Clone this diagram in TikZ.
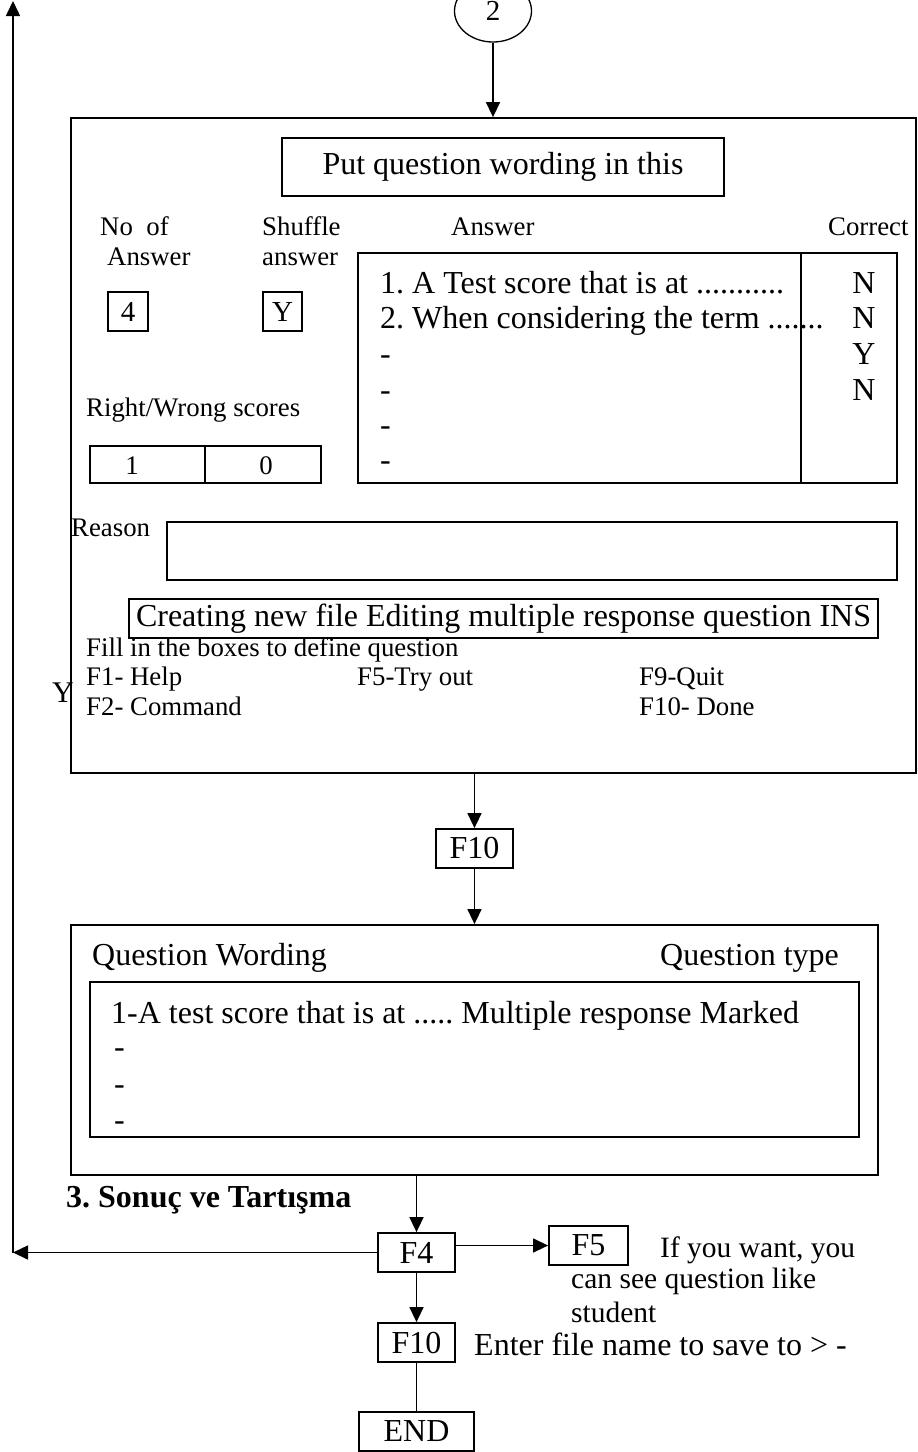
\documentclass[tikz,border=0pt]{standalone}
\usepackage{fontspec}
\setmainfont{Liberation Serif}
\usetikzlibrary{shapes.geometric,arrows.meta}
\newcommand\fbig{\fontsize{32}{37}\selectfont}
\newcommand\fsmall{\fontsize{26.8}{30}\selectfont}
\newcommand\fnote{\fontsize{29.5}{34}\selectfont}
\frenchspacing
\tikzset{
  frame/.style={draw, line width=1.8pt, inner sep=0pt},
  keybox/.style={draw, line width=1.8pt, inner sep=0pt, minimum width=77pt, minimum height=39pt, font=\fbig},
  txt/.style={inner sep=0pt, anchor=base west, font=\fbig},
  stxt/.style={inner sep=0pt, anchor=base west, font=\fsmall},
  ntxt/.style={inner sep=0pt, anchor=base west, font=\fnote},
  conn/.style={line width=1.5pt},
  arr/.style={line width=1.5pt, -{Triangle[length=15pt,width=14pt]}},
}
\begin{document}
\begin{tikzpicture}[x=1pt,y=-1pt]
\useasboundingbox (0,0) rectangle (918,1452);
% top circle connector
\node[ellipse, draw, line width=1.3pt, minimum width=77pt, minimum height=62pt, inner sep=0pt, font=\fontsize{29}{34}\selectfont] (circ) at (493,11) {\raisebox{-3pt}{2}};
% main editing frame
\node[frame, minimum width=845pt, minimum height=655pt] (box1) at (493.5,445.5) {};
\node[frame, minimum width=442pt, minimum height=58pt, font=\fbig] (qbox) at (503,167) {Put question wording in this};
\node[stxt] (noof) at (100,235) {No\ \ of};
\node[stxt] (noans) at (107,265) {Answer};
\node[stxt] (shuf) at (262,235) {Shuffle};
\node[stxt] (shans) at (262,265) {answer};
\node[stxt] (anshd) at (451,235) {Answer};
\node[stxt] (corr) at (828,235) {Correct};
\node[frame, minimum width=40pt, minimum height=39pt, font=\fontsize{29}{34}\selectfont] (b4) at (128,311.5) {4};
\node[frame, minimum width=39pt, minimum height=39pt, font=\fontsize{29}{34}\selectfont] (bY) at (282.5,311.5) {Y};
\node[frame, minimum width=539pt, minimum height=230pt] (ansbox) at (627.5,368) {};
\draw[line width=1.8pt] (801,253) -- (801,483);
\node[txt] (a1) at (380,293) {1. A Test score that is at ...........};
\node[txt] (a2) at (380,328) {2. When considering the term .......};
\node[txt] (a3) at (380,364) {-};
\node[txt] (a4) at (380,400) {-};
\node[txt] (a5) at (380,435) {-};
\node[txt] (a6) at (380,470) {-};
\node[txt, anchor=base] (c1) at (864,293) {N};
\node[txt, anchor=base] (c2) at (864,328) {N};
\node[txt, anchor=base] (c3) at (864,364) {Y};
\node[txt, anchor=base] (c4) at (864,400) {N};
\node[stxt] (rw) at (86,416) {Right/Wrong scores};
\node[frame, minimum width=231pt, minimum height=37pt] (score) at (205.5,464.5) {};
\draw[line width=1.8pt] (205,446) -- (205,483);
\node[stxt, anchor=base] (s1) at (132,474) {1};
\node[stxt, anchor=base] (s0) at (266,474) {0};
\node[stxt] (reason) at (71,536) {Reason};
\node[frame, minimum width=730pt, minimum height=58pt] (rbox) at (532,551) {};
\node[frame, minimum width=749pt, minimum height=39pt, font=\fbig] (create) at (503.5,618.5) {Creating new file Editing multiple response question INS};
\node[stxt] (fill) at (86,656) {Fill in the boxes to define question};
\node[stxt] (f1) at (86,685) {F1- Help};
\node[stxt] (f5t) at (357,685) {F5-Try out};
\node[stxt] (f9) at (639,685) {F9-Quit};
\node[stxt] (f2) at (86,715) {F2- Command};
\node[stxt] (f10t) at (639,715) {F10- Done};
\node[txt, font=\fontsize{30}{34}\selectfont] (ylab) at (52,702) {Y};
% F10 key
\node[keybox] (f10a) at (474.5,848.5) {F10};
% question list frame
\node[frame, minimum width=807pt, minimum height=250pt] (box2) at (474.5,1050) {};
\node[txt] (qw) at (92,965) {Question Wording};
\node[txt] (qt) at (660,965) {Question type};
\node[frame, minimum width=769pt, minimum height=155pt] (inner) at (474.5,1059.5) {};
\node[txt] (l1) at (111,1023) {1-A test score that is at ..... Multiple response Marked};
\node[txt] (l2) at (114,1057) {-};
\node[txt] (l3) at (114,1094) {-};
\node[txt] (l4) at (114,1130) {-};
\node[txt, font=\fbig\bfseries] (sonuc) at (66,1207) {3. Sonuç ve Tartışma};
% keys
\node[keybox] (f4) at (416.5,1252.5) {F4};
\node[keybox, minimum width=79pt] (f5) at (588.5,1245.5) {F5};
\node[ntxt] (n1) at (660,1257) {If you want, you};
\node[ntxt] (n2) at (571,1288) {can see question like};
\node[ntxt] (n3) at (571,1322) {student};
\node[keybox] (f10b) at (416.5,1342.5) {F10};
\node[txt] (enter) at (474,1355) {Enter file name to save to > -};
\node[keybox, minimum width=115pt] (endb) at (416.5,1431.5) {END};
\coordinate (lc) at (13,1252.5);
\coordinate (tc) at (13,1);
% connectors
\draw[arr] (circ.south) -- (circ.south |- box1.north);
\draw[arr] (f10a.north |- box1.south) -- (f10a.north);
\draw[arr] (f10a.south) -- (f10a.south |- box2.north);
\draw[arr] (f4.north |- box2.south) -- (f4.north);
\draw[arr] (f4.west) -- (lc);
\draw[arr] (lc) -- (tc);
\draw[arr] (f4.east |- f5.west) -- (f5.west);
\draw[arr] (f4.south) -- (f10b.north);
\draw[conn] (f10b.south) -- (endb.north);
\end{tikzpicture}
\end{document}
